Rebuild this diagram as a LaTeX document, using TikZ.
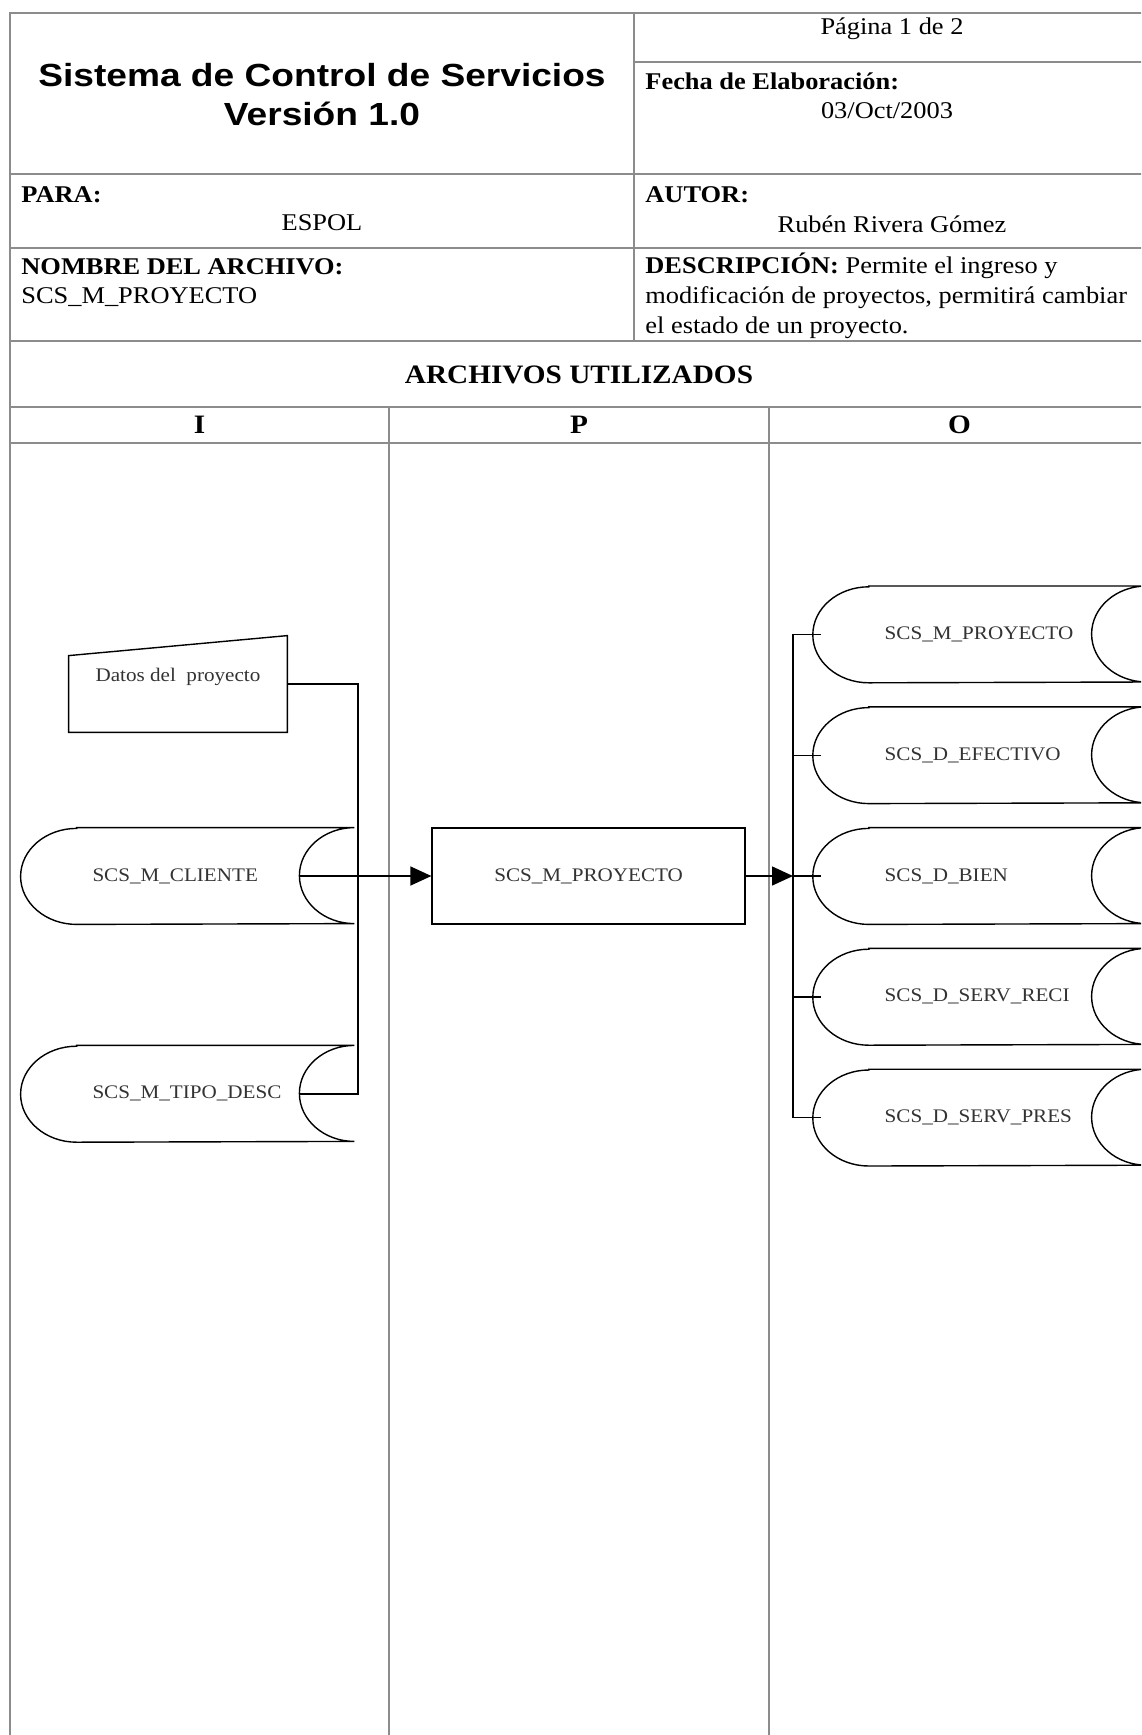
\documentclass[tikz,border=0pt]{standalone}
\usepackage{fontspec}
\setmainfont{Liberation Serif}[FakeStretch=1.1]
\newfontfamily\titulofont{Liberation Sans}[FakeStretch=1.16]
\usetikzlibrary{arrows.meta, positioning}

\begin{document}
\begin{tikzpicture}[x=0.5pt, y=0.5pt,
    rejilla/.style={draw=gray!90, line width=0.8pt},
    dato/.style={inner sep=0pt, font=\fontsize{12}{15}\selectfont},
    campo/.style={dato, anchor=west},
    cabecera/.style={inner sep=0pt, font=\fontsize{13.3}{16}\selectfont\bfseries},
    almacen/.style={rectangle, minimum width=166.5pt, minimum height=48pt,
      text width=95pt, inner xsep=35.75pt, inner ysep=0pt, align=left,
      font=\fontsize{9.6}{12}\selectfont, text=black!80},
    entrada/.style={rectangle, minimum width=109pt, minimum height=48pt,
      inner sep=0pt, text depth=9pt, font=\fontsize{9.6}{12}\selectfont, text=black!80},
    proc/.style={rectangle, draw, line width=0.7pt, minimum width=156.5pt,
      minimum height=48pt, font=\fontsize{9.6}{12}\selectfont, text=black!80},
    linea/.style={line width=0.7pt},
    flecha/.style={linea, -{Triangle[length=10.5pt, width=9.5pt]}}
  ]
    \useasboundingbox (0,0) rectangle (1141,-1735);
    \clip (0,0) rectangle (1141,-1735);

    % cuadro de la hoja
    \draw[rejilla] (10,-13) rectangle (1150,-1745);
    \draw[rejilla] (634,-13) -- (634,-341);
    \draw[rejilla] (634,-62) -- (1150,-62);
    \foreach \y in {174,248,341,407,443}
      \draw[rejilla] (10,-\y) -- (1150,-\y);
    \foreach \x in {389,769}
      \draw[rejilla] (\x,-407) -- (\x,-1745);

    \node[font=\titulofont\bfseries\fontsize{16}{19.5}\selectfont, align=center, inner sep=0pt]
      (titulo) at (322,-95) {Sistema de Control de Servicios\\Versión 1.0};
    \node[dato] (pagina) at (892,-29) {Página 1 de 2};
    \node[campo] (fechaLbl) at (645,-81) {\bfseries Fecha de Elaboración:};
    \node[dato] (fecha) at (887,-111) {03/Oct/2003};
    \node[campo] (paraLbl) at (21,-195) {\bfseries PARA:};
    \node[dato] (para) at (322,-223) {ESPOL};
    \node[campo] (autorLbl) at (645,-195) {\bfseries AUTOR:};
    \node[dato] (autor) at (892,-224) {Rubén Rivera Gómez};
    \node[campo] (nombreLbl) at (21,-267) {\bfseries NOMBRE DEL ARCHIVO:};
    \node[campo] (nombre) at (21,-297) {SCS\_M\_PROYECTO};
    \node[campo, align=left] (desc) at (645,-296)
      {\textbf{DESCRIPCIÓN:} Permite el ingreso y\\modificación de proyectos, permitirá cambiar\\el estado de un proyecto.};
    \node[cabecera] (archivos) at (579,-375) {ARCHIVOS UTILIZADOS};
    \node[cabecera] (colI) at (199.5,-425) {I};
    \node[cabecera] (colP) at (579,-425) {P};
    \node[cabecera] (colO) at (959.5,-425) {O};

    % entradas, proceso y salidas
    \node[entrada] (datos) at (178,-684) {Datos del\ \ proyecto};
    \node[almacen] (cliente) at (187.5,-876) {SCS\_M\_CLIENTE};
    \node[almacen, below=60.5pt of cliente] (tipo) {SCS\_M\_TIPO\_DESC};
    \node[proc, right=38.5pt of cliente] (proceso) {SCS\_M\_PROYECTO};
    \node[almacen, right=33.5pt of proceso] (bien) {SCS\_D\_BIEN};
    \node[almacen, above=12pt of bien] (efectivo) {SCS\_D\_EFECTIVO};
    \node[almacen, above=12pt of efectivo] (proyecto) {SCS\_M\_PROYECTO};
    \node[almacen, below=12pt of bien] (reci) {SCS\_D\_SERV\_RECI};
    \node[almacen, below=12pt of reci] (pres) {SCS\_D\_SERV\_PRES};

    \draw[linea] (datos.south west) -- ([yshift=-10pt]datos.north west)
      -- (datos.north east) -- (datos.south east) -- cycle;
    \foreach \n in {cliente, tipo, proyecto, efectivo, bien, reci, pres}
      \draw[linea] ([xshift=28pt]\n.north west) -- (\n.north east)
        arc[start angle=90, end angle=270, x radius=55, y radius=48]
        -- ([xshift=28pt]\n.south west)
        arc[start angle=270, end angle=90, x radius=56, y radius=48] -- cycle;

    \coordinate (union) at (358,-876);
    \coordinate (bus) at (793,-876);
    \draw[linea] (datos.east) -| (union);
    \draw[linea] ([xshift=-27.5pt]cliente.east) -- (union);
    \draw[linea] ([xshift=-27.5pt]tipo.east) -| (union);
    \draw[flecha] (union) -- (proceso.west);
    \draw[flecha] (proceso.east) -- (proceso.east -| bus);
    \draw[linea] (proyecto.west -| bus) -- (pres.west -| bus);
    \foreach \n in {proyecto, efectivo, bien, reci, pres}
      \draw[linea] (\n.west -| bus) -- ([xshift=4pt]\n.west);
\end{tikzpicture}
\end{document}
